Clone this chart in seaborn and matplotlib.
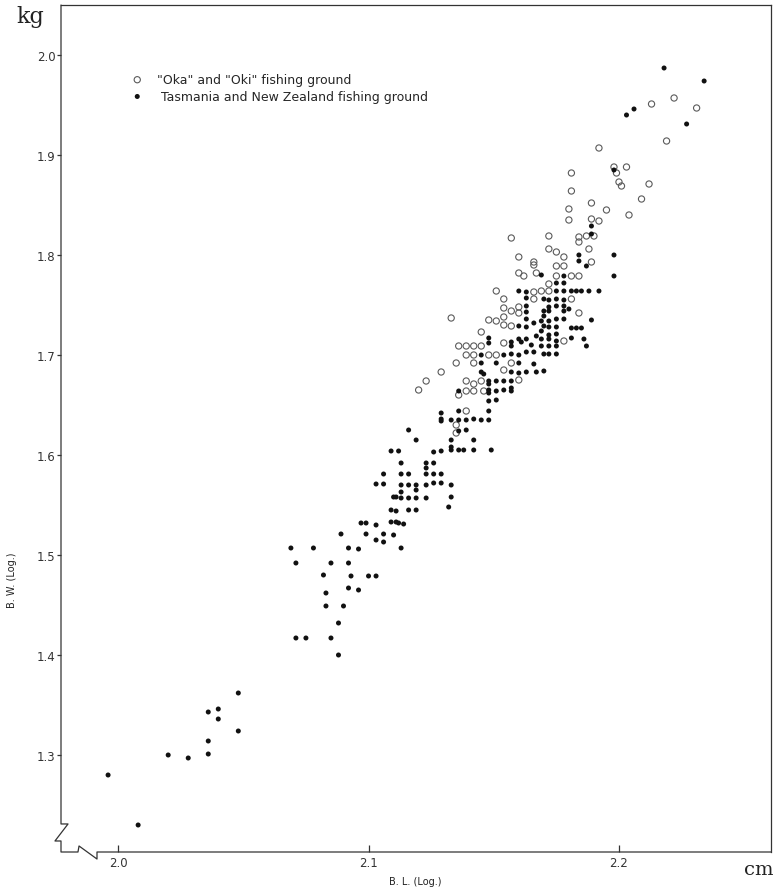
import matplotlib
matplotlib.use("Agg")
import matplotlib.pyplot as plt
import seaborn as sns
import pandas as pd

# (B.L. log, B.W. log)
oka_oki = [
    (2.123, 1.674), (2.120, 1.665), (2.139, 1.674), (2.142, 1.671), (2.145, 1.674),
    (2.160, 1.675), (2.136, 1.660), (2.139, 1.664), (2.142, 1.664), (2.146, 1.664),
    (2.139, 1.644), (2.135, 1.630), (2.135, 1.622),
    (2.145, 1.723), (2.154, 1.712), (2.136, 1.709), (2.139, 1.709), (2.142, 1.709),
    (2.145, 1.709), (2.139, 1.700), (2.142, 1.700), (2.148, 1.700), (2.151, 1.700),
    (2.135, 1.692), (2.142, 1.692), (2.157, 1.692), (2.129, 1.683), (2.154, 1.685),
    (2.178, 1.714),
    (2.157, 1.817), (2.160, 1.798), (2.166, 1.793), (2.166, 1.790), (2.160, 1.782),
    (2.162, 1.779), (2.167, 1.782), (2.151, 1.764), (2.166, 1.763), (2.154, 1.756),
    (2.166, 1.756), (2.154, 1.747), (2.157, 1.744), (2.160, 1.748), (2.133, 1.737),
    (2.148, 1.735), (2.151, 1.734), (2.154, 1.738), (2.160, 1.742), (2.154, 1.730),
    (2.157, 1.729),
    (2.172, 1.819), (2.184, 1.818), (2.184, 1.813), (2.187, 1.819), (2.190, 1.819),
    (2.172, 1.806), (2.175, 1.803), (2.188, 1.806), (2.178, 1.798), (2.189, 1.793),
    (2.175, 1.789), (2.178, 1.789), (2.175, 1.779), (2.181, 1.779), (2.184, 1.779),
    (2.172, 1.771), (2.169, 1.764), (2.172, 1.764), (2.181, 1.756), (2.184, 1.742),
    (2.192, 1.907), (2.198, 1.888), (2.199, 1.882), (2.203, 1.888), (2.181, 1.882),
    (2.200, 1.873), (2.201, 1.869), (2.212, 1.871), (2.181, 1.864), (2.209, 1.856),
    (2.189, 1.852), (2.180, 1.846), (2.195, 1.845), (2.204, 1.840), (2.180, 1.835),
    (2.189, 1.836), (2.192, 1.834), (2.219, 1.914),
    (2.213, 1.951), (2.222, 1.957), (2.231, 1.947),
]

tasmania_nz = [
    (1.996, 1.280), (2.008, 1.230), (2.020, 1.300), (2.028, 1.297), (2.036, 1.343),
    (2.036, 1.314), (2.036, 1.301), (2.040, 1.346), (2.040, 1.336), (2.048, 1.362),
    (2.048, 1.324),
    (2.103, 1.571), (2.106, 1.571), (2.113, 1.570), (2.116, 1.570), (2.119, 1.570),
    (2.123, 1.570), (2.126, 1.572), (2.129, 1.572), (2.133, 1.570), (2.113, 1.563),
    (2.119, 1.565), (2.110, 1.558), (2.111, 1.558), (2.113, 1.557), (2.116, 1.557),
    (2.119, 1.557), (2.123, 1.557), (2.133, 1.558), (2.109, 1.545), (2.111, 1.544),
    (2.116, 1.545), (2.119, 1.545), (2.132, 1.548), (2.097, 1.532), (2.099, 1.532),
    (2.103, 1.530), (2.109, 1.533), (2.111, 1.533), (2.112, 1.532), (2.114, 1.531),
    (2.089, 1.521), (2.099, 1.521), (2.106, 1.521), (2.110, 1.520), (2.103, 1.515),
    (2.106, 1.513), (2.069, 1.507), (2.078, 1.507), (2.092, 1.507), (2.096, 1.506),
    (2.113, 1.507), (2.071, 1.492), (2.085, 1.492), (2.092, 1.492), (2.082, 1.480),
    (2.093, 1.479), (2.100, 1.479), (2.103, 1.479), (2.092, 1.467), (2.096, 1.465),
    (2.083, 1.462), (2.083, 1.449), (2.090, 1.449), (2.088, 1.432), (2.071, 1.417),
    (2.075, 1.417), (2.085, 1.417), (2.088, 1.400),
    (2.148, 1.674), (2.148, 1.671), (2.151, 1.674), (2.154, 1.674), (2.157, 1.674),
    (2.136, 1.664), (2.148, 1.665), (2.148, 1.662), (2.151, 1.664), (2.154, 1.665),
    (2.157, 1.667), (2.157, 1.664), (2.148, 1.654), (2.151, 1.655), (2.129, 1.642),
    (2.136, 1.644), (2.148, 1.644), (2.129, 1.636), (2.129, 1.634), (2.133, 1.635),
    (2.136, 1.635), (2.139, 1.635), (2.142, 1.636), (2.145, 1.635), (2.148, 1.635),
    (2.116, 1.625), (2.136, 1.624), (2.139, 1.625), (2.119, 1.615), (2.133, 1.615),
    (2.142, 1.615), (2.133, 1.608), (2.133, 1.605), (2.136, 1.605), (2.138, 1.605),
    (2.142, 1.605), (2.149, 1.605), (2.109, 1.604), (2.112, 1.604), (2.126, 1.603),
    (2.129, 1.604), (2.113, 1.592), (2.123, 1.592), (2.123, 1.587), (2.126, 1.592),
    (2.106, 1.581), (2.113, 1.581), (2.116, 1.581), (2.123, 1.581), (2.126, 1.581),
    (2.129, 1.581),
    (2.148, 1.717), (2.148, 1.712), (2.157, 1.709), (2.157, 1.713), (2.160, 1.716),
    (2.161, 1.713), (2.163, 1.716), (2.167, 1.719), (2.165, 1.710), (2.145, 1.700),
    (2.154, 1.700), (2.157, 1.701), (2.160, 1.700), (2.163, 1.703), (2.166, 1.703),
    (2.145, 1.692), (2.151, 1.692), (2.160, 1.692), (2.166, 1.691), (2.145, 1.683),
    (2.146, 1.681), (2.157, 1.683), (2.160, 1.682), (2.163, 1.683), (2.167, 1.683),
    (2.169, 1.724), (2.172, 1.720), (2.172, 1.716), (2.169, 1.716), (2.175, 1.721),
    (2.175, 1.714), (2.181, 1.717), (2.186, 1.716), (2.187, 1.709), (2.169, 1.709),
    (2.172, 1.709), (2.175, 1.709), (2.170, 1.701), (2.172, 1.701), (2.175, 1.701),
    (2.170, 1.684),
    (2.160, 1.764), (2.163, 1.763), (2.163, 1.757), (2.163, 1.749), (2.163, 1.743),
    (2.163, 1.736), (2.160, 1.729), (2.163, 1.728), (2.166, 1.732),
    (2.189, 1.821), (2.184, 1.800), (2.184, 1.794), (2.198, 1.800), (2.187, 1.789),
    (2.169, 1.780), (2.178, 1.779), (2.198, 1.779), (2.175, 1.772), (2.178, 1.772),
    (2.175, 1.764), (2.178, 1.764), (2.181, 1.764), (2.183, 1.764), (2.185, 1.764),
    (2.188, 1.764), (2.192, 1.764), (2.170, 1.756), (2.172, 1.755), (2.175, 1.756),
    (2.178, 1.755), (2.172, 1.748), (2.172, 1.744), (2.175, 1.749), (2.178, 1.749),
    (2.178, 1.744), (2.180, 1.746), (2.170, 1.744), (2.170, 1.739), (2.175, 1.736),
    (2.178, 1.736), (2.189, 1.735), (2.169, 1.734), (2.172, 1.734), (2.181, 1.727),
    (2.183, 1.727), (2.185, 1.727), (2.170, 1.729), (2.172, 1.728), (2.175, 1.728),
    (2.198, 1.885), (2.189, 1.829),
    (2.218, 1.987), (2.234, 1.974), (2.206, 1.946), (2.203, 1.940), (2.227, 1.931),
]

x_ticks = [2.0, 2.1, 2.2]
y_ticks = [1.3, 1.4, 1.5, 1.6, 1.7, 1.8, 1.9, 2.0]
labels = ['"Oka" and "Oki" fishing ground', " Tasmania and New Zealand fishing ground"]

oka_df = pd.DataFrame(oka_oki, columns=["bl", "bw"])
tas_df = pd.DataFrame(tasmania_nz, columns=["bl", "bw"])

sns.set_style("ticks")
plt.rcParams["font.family"] = ["DejaVu Sans"]

fig = plt.figure(figsize=(7.78, 8.95), dpi=100)
ax = fig.add_axes([61 / 778, 1 - 853 / 895, 710 / 778, 847 / 895])

sns.scatterplot(data=oka_df, x="bl", y="bw", ax=ax, s=20, marker="o",
                facecolor="none", edgecolor="#5a5a5a", linewidth=0.8, label=labels[0])
sns.scatterplot(data=tas_df, x="bl", y="bw", ax=ax, s=13, marker="o",
                color="#111111", edgecolor="none", label=labels[1])

ax.set_xlim(1.9772, 2.2607)
ax.set_ylim(1.203, 2.050)
ax.set_xticks(x_ticks)
ax.set_xticklabels([f"{v:.1f}" for v in x_ticks])
ax.set_yticks(y_ticks)
ax.set_yticklabels([f"{v:.1f}" for v in y_ticks])
ax.set_xlabel("")
ax.set_ylabel("")
ax.tick_params(axis="x", direction="in", length=5, width=0.9, pad=3,
               labelsize=8.5, colors="#333333")
ax.tick_params(axis="y", direction="out", length=3, width=0.9, pad=1,
               labelsize=8.5, colors="#333333")

# frame with broken-axis marks at the lower left corner
for side in ["top", "right"]:
    ax.spines[side].set_linewidth(0.9)
    ax.spines[side].set_color("#333333")
ax.spines["left"].set_visible(False)
ax.spines["bottom"].set_visible(False)
frame_x = [0, 0, 0.0099, -0.0085, 0, 0, 0.0239, 0.0254, 0.0507, 0.0507, 1]
frame_y = [1, 0.0331, 0.0331, 0.0130, 0.0130, 0, 0, 0.0071, -0.0083, 0, 0]
ax.plot(frame_x, frame_y, transform=ax.transAxes, clip_on=False,
        color="#333333", lw=0.9)

leg = ax.legend(loc="upper left", bbox_to_anchor=(131 / 778, 1 - 74 / 895),
                bbox_transform=fig.transFigure, frameon=False, fontsize=9,
                borderpad=0, handlelength=1, handletextpad=1.1, labelspacing=0.3,
                borderaxespad=0)

fig.text(30 / 778, 1 - 17 / 895, "kg", family="DejaVu Serif", fontsize=16,
         ha="center", va="center", color="#222222")
fig.text(759 / 778, 1 - 870 / 895, "cm", family="DejaVu Serif", fontsize=14,
         ha="center", va="center", color="#222222")
fig.text(415 / 778, 1 - 882 / 895, "B. L. (Log.)", fontsize=7,
         ha="center", va="center", color="#222222")
fig.text(12 / 778, 1 - 580 / 895, "B. W. (Log.)", fontsize=7, rotation=90,
         ha="center", va="center", color="#222222")

fig.savefig("out.png", dpi=100)
